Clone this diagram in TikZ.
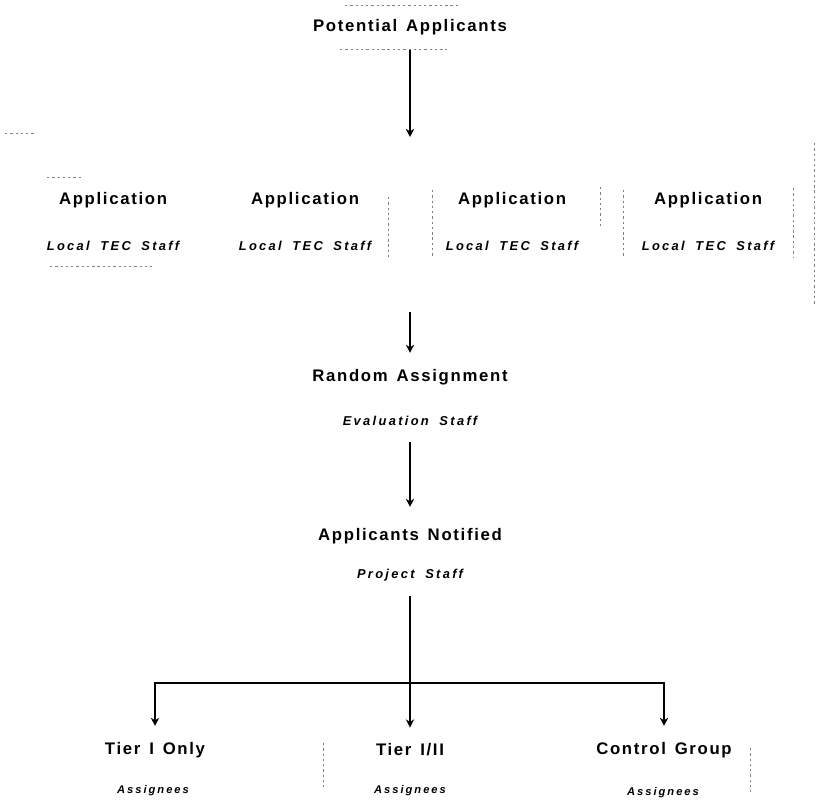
\documentclass[tikz,border=0pt]{standalone}
\usepackage{fontspec}
\setmainfont{Liberation Sans}
\newfontfamily\headfont[LetterSpace=10, WordSpace=1.4]{Liberation Sans}
\newfontfamily\stafffont[LetterSpace=18, WordSpace=1.8]{Liberation Sans}
\usetikzlibrary{arrows.meta}
\tikzstyle{head} = [inner sep=0pt, font=\headfont\bfseries\fontsize{14.3}{16}\selectfont]
\tikzstyle{staff} = [inner sep=0pt, font=\stafffont\bfseries\itshape\fontsize{11}{13}\selectfont]
\tikzstyle{assg} = [inner sep=0pt, font=\stafffont\bfseries\itshape\fontsize{9.5}{11}\selectfont]
\tikzstyle{arrow} = [line width=2.5pt,-{Stealth[length=7pt,width=7pt]}]
\tikzstyle{bar} = [line width=2.5pt]
\tikzstyle{ghost} = [black!50, line width=0.5pt, dash pattern=on 2pt off 2.5pt]

\begin{document}
\begin{tikzpicture}[x=0.03cm, y=-0.03cm]
\useasboundingbox (0,0) rectangle (818,806);

\node (pot) [head] at (410,27) {Potential Applicants};
\coordinate (grptop) at (410,137);
\coordinate (grpbot) at (410,312);

\foreach \x [count=\i] in {113,305,512,708} {
  \node (app\i) [head] at (\x,200) {Application};
  \node (tec\i) [staff] at (\x,246) {Local TEC Staff};
}

\node (rand) [head] at (410,377) {Random Assignment};
\node (eval) [staff] at (410,421) {Evaluation Staff};

\node (notif) [head] at (410,536) {Applicants Notified};
\node (proj) [staff] at (410,575) {Project Staff};

\coordinate (split) at (410,683);
\node (tier1) [head] at (155,750) {Tier I Only};
\node (tier2) [head] at (410,750) {Tier I/II};
\node (ctrl) [head] at (664,750) {Control Group};
\node (asg1) [assg] at (153,791) {Assignees};
\node (asg2) [assg] at (410,791) {Assignees};
\node (asg3) [assg] at (663,793) {Assignees};

\draw [arrow, shorten <=0.42cm] (pot) -- (grptop);
\draw [arrow, shorten >=0.48cm] (grpbot) -- (rand);
\draw [arrow, shorten <=0.48cm, shorten >=0.63cm] (eval) -- (notif);
\draw [bar, shorten <=0.45cm] (proj) -- (split);
\draw [arrow, shorten >=0.48cm] (split) -| (tier1);
\draw [arrow, shorten >=0.48cm] (split) -- (tier2);
\draw [arrow, shorten >=0.48cm] (split) -| (ctrl);

% faded box edges left by the scan
\foreach \xa/\ya/\xb/\yb in {814/143/814/305, 793/188/793/258, 623/190/623/258,
    432/190/432/258, 388/197/388/258, 600/187/600/228, 323/743/323/787,
    750/748/750/792, 340/49/447/49, 345/5/458/5, 47/177/82/177, 50/266/152/266,
    5/133/35/133}
  \draw [ghost] (\xa,\ya) -- (\xb,\yb);

\end{tikzpicture}
\end{document}
